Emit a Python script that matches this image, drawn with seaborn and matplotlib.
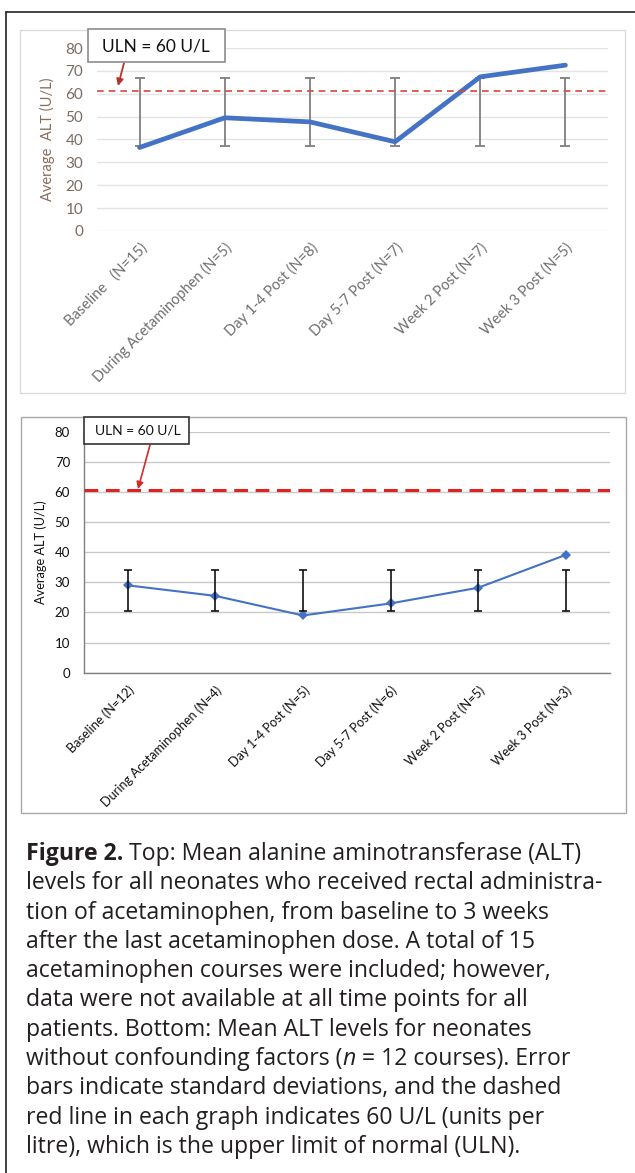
import numpy as np
import pandas as pd
import matplotlib.pyplot as plt
from matplotlib.patches import Rectangle
from matplotlib.lines import Line2D
import seaborn as sns

# Top panel: all neonates
top_labels = ["Baseline   (N=15)", "During Acetaminophen (N=5)", "Day 1-4 Post (N=8)",
              "Day 5-7 Post (N=7)", "Week 2 Post (N=7)", "Week 3 Post (N=5)"]
top_alt = [36.5, 49.5, 47.7, 39.0, 67.4, 72.5]
top_err_low = [37, 37, 37, 37, 37, 37]
top_err_high = [67, 67, 67, 67, 67, 67]
top_uln = 61

# Bottom panel: neonates without confounding factors
bot_labels = ["Baseline (N=12)", "During Acetaminophen (N=4)", "Day 1-4 Post (N=5)",
              "Day 5-7 Post (N=6)", "Week 2 Post (N=5)", "Week 3 Post (N=3)"]
bot_alt = [29.0, 25.5, 19.0, 23.0, 28.2, 39.1]
bot_err_low = [20.5, 20.5, 20.5, 20.5, 20.5, 20.5]
bot_err_high = [34.1, 34.1, 34.1, 34.1, 34.1, 34.1]
bot_uln = 60.5

y_ticks = [0, 10, 20, 30, 40, 50, 60, 70, 80]
uln_text = "ULN = 60 U/L"

caption_lines = [
    [("Figure 2.", "bold"), (" Top: Mean alanine aminotransferase (ALT)", "normal")],
    [("levels for all neonates who received rectal administra-", "normal")],
    [("tion of acetaminophen, from baseline to 3 weeks", "normal")],
    [("after the last acetaminophen dose. A total of 15", "normal")],
    [("acetaminophen courses were included; however,", "normal")],
    [("data were not available at all time points for all", "normal")],
    [("patients. Bottom: Mean ALT levels for neonates", "normal")],
    [("without confounding factors (", "normal"), ("n", "italic"), (" = 12 courses). Error", "normal")],
    [("bars indicate standard deviations, and the dashed", "normal")],
    [("red line in each graph indicates 60 U/L (units per", "normal")],
    [("litre), which is the upper limit of normal (ULN).", "normal")],
]

W, H = 635, 1173
sns.set_style("white")
plt.rcParams['font.family'] = ['Lato', 'DejaVu Sans']

fig = plt.figure(figsize=(W / 100, H / 100), dpi=100)
fig.patch.set_facecolor("white")


def fx(px):
    return px / W


def fy(py):
    return 1 - py / H


def add_axes_px(left, top, right, bottom):
    return fig.add_axes([fx(left), fy(bottom), fx(right - left), (bottom - top) / H])


# outer frame and panel boxes
fig.add_artist(Line2D([fx(6), fx(6)], [fy(12), fy(H + 5)], color="#222222", lw=1.2))
fig.add_artist(Line2D([fx(6), fx(W + 5)], [fy(12), fy(12)], color="#222222", lw=1.2))
fig.add_artist(Rectangle((fx(20), fy(393)), fx(605), (393 - 30) / H, fill=False,
                         edgecolor="#dcdcdc", lw=1.0))
fig.add_artist(Rectangle((fx(21), fy(813)), fx(605), (813 - 417) / H, fill=False,
                         edgecolor="#a8a8a8", lw=1.0))

# ---------------- top chart ----------------
ax1 = add_axes_px(97, 48, 608, 231)
df_top = pd.DataFrame({"label": top_labels, "alt": top_alt})
pos = np.arange(len(top_labels))
mid = (np.array(top_err_low) + np.array(top_err_high)) / 2
half = (np.array(top_err_high) - np.array(top_err_low)) / 2
ax1.errorbar(pos, mid, yerr=half, fmt="none", ecolor="#7f7f7f", elinewidth=1.3,
             capsize=3.5, capthick=1.3, zorder=2)
sns.lineplot(data=df_top, x="label", y="alt", sort=False, ax=ax1, color="#4472C4",
             lw=3.4, zorder=3)
ax1.axhline(top_uln, color="#d9463e", lw=1.2, dashes=(4, 3), zorder=4)
ax1.set_ylim(0, 80)
ax1.set_xlim(-0.5, len(top_labels) - 0.5)
ax1.set_yticks(y_ticks)
ax1.grid(axis="y", color="#e4e4e4", lw=1.0)
ax1.set_axisbelow(True)
for s in ax1.spines.values():
    s.set_visible(False)
ax1.set_xticks(pos)
ax1.set_xticklabels(top_labels, rotation=45, ha="right", rotation_mode="anchor",
                    fontsize=10.5, color="#6f6f6f")
ax1.tick_params(axis="x", length=0, pad=7)
ax1.tick_params(axis="y", length=0, pad=10, labelsize=11, labelcolor="#7a6c62")
ax1.set_xlabel("")
ax1.set_ylabel("Average  ALT (U/L)", fontsize=10.5, color="#8a6d5d")
ax1.yaxis.set_label_coords(-0.082, 0.5)

fig.add_artist(Rectangle((fx(88), fy(62)), fx(137), (62 - 29) / H, facecolor="white",
                         edgecolor="#8c8c8c", lw=1.2, zorder=5))
fig.text(fx(102), fy(46), uln_text, fontsize=12.5, color="#111111", va="center",
         ha="left", zorder=6)
fig.add_artist(plt.Annotation("", xy=(fx(118), fy(86)), xytext=(fx(124), fy(63)),
                              xycoords="figure fraction", textcoords="figure fraction",
                              arrowprops=dict(arrowstyle="-|>", color="#b8322c", lw=1.3,
                                              mutation_scale=10, shrinkA=0, shrinkB=0)))

# ---------------- bottom chart ----------------
ax2 = add_axes_px(84, 431.7, 609.5, 672.7)
df_bot = pd.DataFrame({"label": bot_labels, "alt": bot_alt})
pos = np.arange(len(bot_labels))
mid = (np.array(bot_err_low) + np.array(bot_err_high)) / 2
half = (np.array(bot_err_high) - np.array(bot_err_low)) / 2
ax2.errorbar(pos, mid, yerr=half, fmt="none", ecolor="#111111", elinewidth=1.2,
             capsize=3, capthick=1.2, zorder=4)
sns.lineplot(data=df_bot, x="label", y="alt", sort=False, ax=ax2, color="#4472C4",
             lw=1.5, marker="D", markersize=5, markeredgewidth=0, zorder=3)
ax2.axhline(bot_uln, color="#dc2424", lw=2.2, dashes=(4.5, 2.5), zorder=5)
ax2.set_ylim(0, 80)
ax2.set_xlim(-0.5, len(bot_labels) - 0.5)
ax2.set_yticks(y_ticks)
ax2.grid(axis="y", color="#c9c9c9", lw=1.0)
ax2.set_axisbelow(True)
for side in ["top", "right"]:
    ax2.spines[side].set_visible(False)
for side in ["left", "bottom"]:
    ax2.spines[side].set_color("#7f7f7f")
    ax2.spines[side].set_linewidth(1.0)
ax2.set_xticks(pos)
ax2.set_xticklabels(bot_labels, rotation=45, ha="right", rotation_mode="anchor",
                    fontsize=9.2, color="#111111")
ax2.tick_params(axis="x", length=0, pad=8)
ax2.tick_params(axis="y", length=0, pad=10, labelsize=9.5, labelcolor="#111111")
ax2.set_xlabel("")
ax2.set_ylabel("Average ALT (U/L)", fontsize=9.2, color="#111111")
ax2.yaxis.set_label_coords(-0.070, 0.5)

fig.add_artist(Rectangle((fx(84), fy(444)), fx(105), (444 - 417) / H, facecolor="white",
                         edgecolor="#333333", lw=1.2, zorder=5))
fig.text(fx(95), fy(431), uln_text, fontsize=10, color="#111111", va="center",
         ha="left", zorder=6)
fig.add_artist(plt.Annotation("", xy=(fx(138), fy(489)), xytext=(fx(150), fy(445)),
                              xycoords="figure fraction", textcoords="figure fraction",
                              arrowprops=dict(arrowstyle="-|>", color="#d42a2a", lw=1.2,
                                              mutation_scale=10, shrinkA=0, shrinkB=0)))

# ---------------- caption ----------------
renderer = fig.canvas.get_renderer()
cap_size = 16.6
for i, runs in enumerate(caption_lines):
    x = 26
    y = 860 + 29.3 * i
    for text, style in runs:
        t = fig.text(fx(x), fy(y), text, fontsize=cap_size, color="#231f20", va="baseline",
                     ha="left", family=["Open Sans", "DejaVu Sans"],
                     fontweight="bold" if style == "bold" else "normal",
                     fontstyle="italic" if style == "italic" else "normal")
        x += t.get_window_extent(renderer).width

fig.savefig("out.png", dpi=100)
